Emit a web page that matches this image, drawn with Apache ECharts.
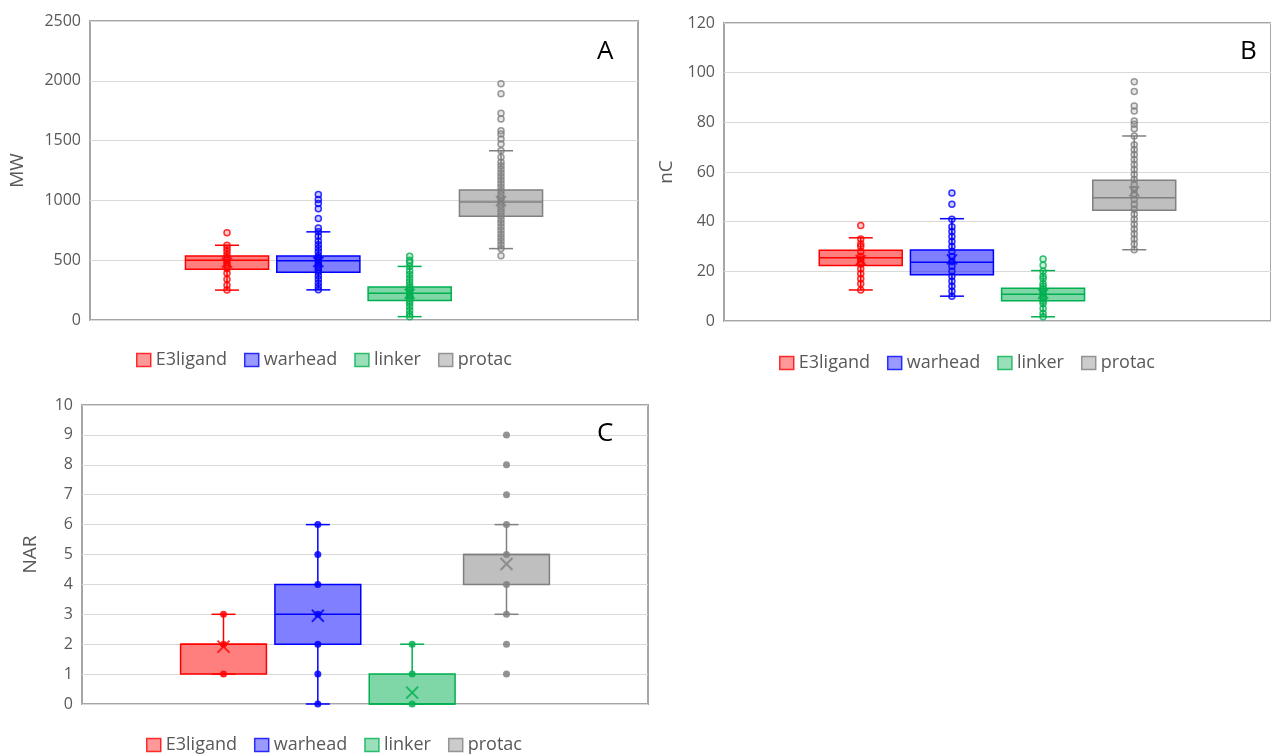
<!DOCTYPE html>
<html>
<head>
<meta charset="utf-8">
<script src="https://cdn.jsdelivr.net/npm/echarts@6/dist/echarts.min.js"></script>
<style>
  html, body { margin: 0; padding: 0; background: #fff; }
  #chart { width: 1271px; height: 756px; }
</style>
</head>
<body>
<div id="chart"></div>
<script>
// categories: empty slots on both sides keep the groups centred like Excel does
const CATEGORIES = ['', 'E3ligand', 'warhead', 'linker', 'protac', ' '];
const GROUPS = ['E3ligand', 'warhead', 'linker', 'protac'];
const LINE = ['#ff0000', '#0000ff', '#00b050', '#808080'];
const FILL = ['rgba(255,0,0,0.5)', 'rgba(0,0,255,0.5)', 'rgba(0,176,80,0.5)', 'rgba(128,128,128,0.5)'];
const DOT_FILL = ['rgba(255,0,0,0.25)', 'rgba(0,0,255,0.25)', 'rgba(0,176,80,0.25)', 'rgba(128,128,128,0.25)'];

// A: MW  — [min, q1, median, q3, max] per group
const mwBox = [
  [250, 425, 500, 535, 625],
  [252, 400, 495, 535, 737],
  [28, 162, 224, 275, 448],
  [597, 868, 986, 1087, 1415],
];
const mwMean = [480, 485, 220, 994];
const mwPoints = [
  [250, 290, 340, 390, 430, 460, 480, 500, 520, 545, 575, 600, 625, 730],
  [252, 280, 310, 340, 370, 400, 420, 440, 460, 480, 500, 520, 540, 570, 600, 630, 660, 700, 737,
   770, 849, 930, 975, 1008, 1050],
  [28, 50, 80, 110, 140, 160, 180, 200, 215, 230, 250, 270, 290, 320, 350, 380, 410, 448, 480, 500, 532],
  [538, 597, 630, 660, 690, 720, 750, 780, 810, 840, 870, 900, 930, 960, 990, 1020, 1050, 1080, 1110,
   1140, 1170, 1200, 1230, 1260, 1290, 1320, 1360, 1415, 1471, 1513, 1555, 1582, 1681, 1729, 1891, 1975],
];

// B: nC
const ncBox = [
  [12.5, 22.3, 25.5, 28.5, 33.5],
  [10, 18.6, 23.7, 28.6, 41.2],
  [1.7, 8.2, 10.8, 13.2, 20.3],
  [28.7, 44.6, 49.6, 56.7, 74.5],
];
const ncMean = [24.5, 24.8, 11, 52.2];
const ncPoints = [
  [12.5, 15, 17, 19, 21, 23, 24, 25, 26, 28, 30, 31, 33, 38.5],
  [10, 12, 14, 16, 18, 20, 22, 24, 26, 28, 30, 32, 34, 36, 38, 41, 47, 51.5],
  [1.7, 3, 5, 7, 8, 9, 10, 11, 12, 13, 14, 15, 17, 18, 20, 22.5, 25],
  [28.7, 31, 33, 35, 37, 39, 41, 43, 45, 47, 49, 51, 53, 55, 57, 59, 61, 63, 65, 67, 69, 71, 74.5,
   77.4, 79.2, 80.5, 84.6, 86.6, 92.4, 96.3],
];

// C: NAR
const narBox = [
  [1, 1, 2, 2, 3],
  [0, 2, 3, 4, 6],
  [0, 0, 0, 1, 2],
  [3, 4, 5, 5, 6],
];
const narMean = [1.92, 2.95, 0.38, 4.68];
const narPoints = [
  [1, 2, 3],
  [0, 1, 2, 3, 4, 5, 6],
  [0, 1, 2],
  [1, 2, 3, 4, 5, 6, 7, 8, 9],
];

const FONT = 'Open Sans';
const TEXT = '#595959';
const CROSS = 'path://M0,0L10,10M10,0L0,10';

function renderBox(params, api) {
  const i = params.dataIndex;
  const x = api.value(0);
  const lo = api.coord([x, api.value(1)]);
  const q1 = api.coord([x, api.value(2)]);
  const md = api.coord([x, api.value(3)]);
  const q3 = api.coord([x, api.value(4)]);
  const hi = api.coord([x, api.value(5)]);
  const w = api.size([1, 0])[0] * 0.91;
  const cx = lo[0];
  const cap = 12;
  const st = { stroke: LINE[i], lineWidth: 1.5 };
  return {
    type: 'group',
    children: [
      { type: 'line', shape: { x1: cx, y1: hi[1], x2: cx, y2: q3[1] }, style: st },
      { type: 'line', shape: { x1: cx, y1: q1[1], x2: cx, y2: lo[1] }, style: st },
      { type: 'line', shape: { x1: cx - cap, y1: hi[1], x2: cx + cap, y2: hi[1] }, style: st },
      { type: 'line', shape: { x1: cx - cap, y1: lo[1], x2: cx + cap, y2: lo[1] }, style: st },
      { type: 'rect', shape: { x: cx - w / 2, y: q3[1], width: w, height: q1[1] - q3[1] },
        style: { fill: FILL[i], stroke: LINE[i], lineWidth: 1.5 } },
      { type: 'line', shape: { x1: cx - w / 2, y1: md[1], x2: cx + w / 2, y2: md[1] }, style: st },
    ],
  };
}

function panelSeries(gi, box, mean, points, filledDots) {
  const list = [{
    type: 'custom',
    xAxisIndex: gi, yAxisIndex: gi,
    renderItem: renderBox,
    encode: { x: 0, y: [1, 2, 3, 4, 5] },
    data: box.map((b, i) => [i + 1, ...b]),
    z: 2,
  }];
  GROUPS.forEach((g, i) => {
    list.push({
      name: g,
      type: 'scatter',
      xAxisIndex: gi, yAxisIndex: gi,
      symbol: 'circle',
      symbolSize: filledDots ? 7 : 6,
      itemStyle: filledDots
        ? { color: LINE[i], opacity: 0.85 }
        : { color: DOT_FILL[i], borderColor: LINE[i], borderWidth: 1.5 },
      data: points[i].map(v => [i + 1, v]),
      z: 3,
    });
  });
  list.push({
    type: 'scatter',
    xAxisIndex: gi, yAxisIndex: gi,
    symbol: CROSS,
    symbolSize: filledDots ? 12 : 10,
    data: mean.map((m, i) => ({
      value: [i + 1, m],
      itemStyle: { color: 'rgba(0,0,0,0)', borderColor: LINE[i], borderWidth: 2 },
    })),
    z: 4,
  });
  return list;
}

function legendFor(left, top) {
  return {
    left, top, padding: 0,
    itemWidth: 14, itemHeight: 13, itemGap: 17,
    textStyle: { color: TEXT, fontSize: 18, fontFamily: FONT },
    data: GROUPS.map((g, i) => ({
      name: g, icon: 'rect',
      itemStyle: { color: FILL[i], borderColor: LINE[i], borderWidth: 1.5 },
    })),
  };
}

function yAxisFor(gi, name, max, interval, nameGap) {
  return {
    type: 'value', gridIndex: gi, min: 0, max, interval,
    name, nameLocation: 'middle', nameGap,
    nameTextStyle: { color: TEXT, fontSize: 19, fontFamily: FONT },
    axisLine: { show: false }, axisTick: { show: false },
    axisLabel: { color: TEXT, fontSize: 16, fontFamily: FONT, margin: 9, formatter: v => String(v) },
    splitLine: { lineStyle: { color: '#d9d9d9', width: 1.2 } },
  };
}

function xAxisFor(gi) {
  return {
    type: 'category', gridIndex: gi, data: CATEGORIES,
    axisLine: { show: false }, axisTick: { show: false },
    axisLabel: { show: false }, splitLine: { show: false },
  };
}

const chart = echarts.init(document.getElementById('chart'));
const frame = { show: true, borderColor: '#a6a6a6', borderWidth: 2, backgroundColor: 'transparent' };
const letter = { fontSize: 26, fontWeight: 'normal', color: '#000', fontFamily: FONT };

chart.setOption({
  animation: false,
  textStyle: { fontFamily: FONT },
  title: [
    { text: 'A', left: 592, top: 34, textStyle: letter },
    { text: 'B', left: 1235, top: 34, textStyle: letter },
    { text: 'C', left: 592, top: 416, textStyle: letter },
  ],
  grid: [
    { left: 90, top: 21, width: 548, height: 299, ...frame },
    { left: 724, top: 23, width: 560, height: 298, ...frame },
    { left: 82, top: 405, width: 566, height: 299, ...frame },
  ],
  xAxis: [xAxisFor(0), xAxisFor(1), xAxisFor(2)],
  yAxis: [
    yAxisFor(0, 'MW', 2500, 500, 63),
    yAxisFor(1, 'nC', 120, 20, 48),
    yAxisFor(2, 'NAR', 10, 1, 42),
  ],
  legend: [legendFor(136, 351), legendFor(779, 354), legendFor(146, 736)],
  series: [
    ...panelSeries(0, mwBox, mwMean, mwPoints, false),
    ...panelSeries(1, ncBox, ncMean, ncPoints, false),
    ...panelSeries(2, narBox, narMean, narPoints, true),
  ],
});
</script>
</body>
</html>
